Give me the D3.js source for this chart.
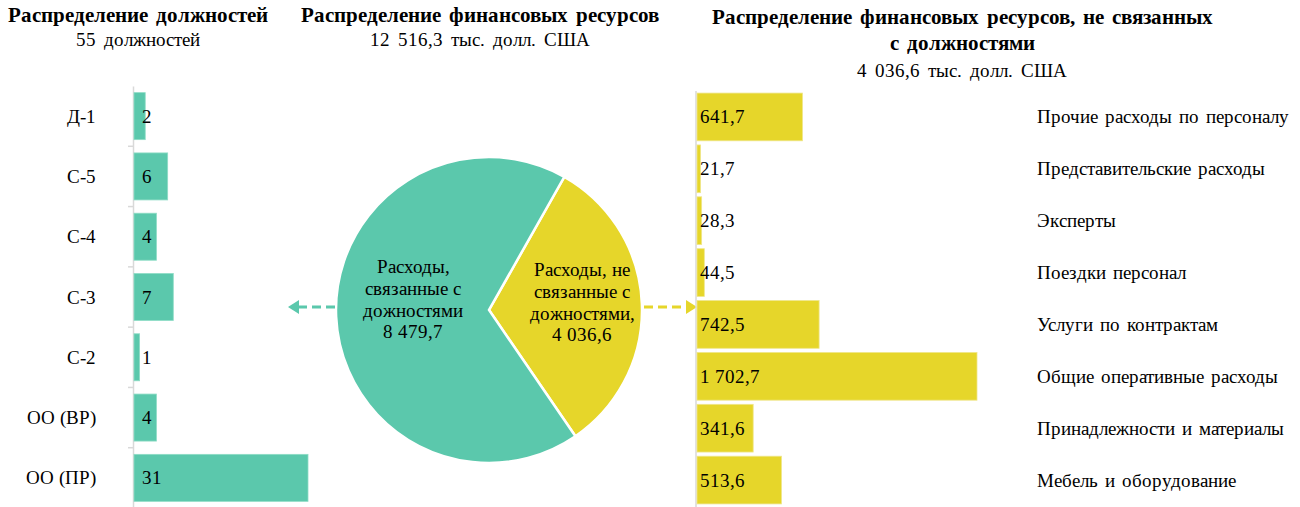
<!DOCTYPE html>
<html>
<head>
<meta charset="utf-8">
<script src="https://cdn.jsdelivr.net/npm/d3@7"></script>
<style>
  @font-face { font-family: "MySerif"; src: local("Liberation Serif"); }
  @font-face { font-family: "MySerif"; font-weight: bold; src: local("Liberation Serif Bold"); }
  body { margin: 0; background: #fff; }
</style>
</head>
<body>
<svg id="chart" width="1300" height="507"></svg>
<script>
const posts = ["Д-1", "С-5", "С-4", "С-3", "С-2", "ОО (ВР)", "ОО (ПР)"];
const postCounts = [2, 6, 4, 7, 1, 4, 31];

const pieNames = [
  ["Расходы, не", "связанные с", "дожностями,", "4 036,6"],
  ["Расходы,", "связанные с", "дожностями", "8 479,7"]
];
const pieValues = [4036.6, 8479.7];

const costItems = [
  "Прочие расходы по персоналу",
  "Представительские расходы",
  "Эксперты",
  "Поездки персонал",
  "Услуги по контрактам",
  "Общие оперативные расходы",
  "Принадлежности и материалы",
  "Мебель и оборудование"
];
const costValues = [641.7, 21.7, 28.3, 44.5, 742.5, 1702.7, 341.6, 513.6];

const green = "#5bc8ac";
const yellow = "#e6d62a";
const fmt = (v) => {
  const [i, f] = v.toFixed(1).split(".");
  return i.replace(/\B(?=(\d{3})+(?!\d))/g, " ") + "," + f;
};

const svg = d3.select("#chart");

function css(size, bold, ws) {
  return `font-family:MySerif,'Liberation Serif';font-size:${size}px;font-weight:${bold ? "bold" : "normal"};word-spacing:${ws || 0}px`;
}
// size the face so that a sample string has the width seen in the picture
function fit(sample, bold, ws, target) {
  const t = svg.append("text").attr("style", css(100, bold, ws * 100 / 18)).text(sample);
  const w = t.node().getComputedTextLength();
  t.remove();
  return 100 * target / w;
}
const titleSize = fit("Распределение должностей", true, 3, 258);
const textSize = fit("Прочие расходы по персоналу", false, 0, 249);

function txt(sel, size, bold, ws) {
  return sel.attr("style", css(size, bold, ws)).attr("fill", "#000");
}

// titles
function title(x, lines) {
  lines.forEach(([t, bold, y]) => {
    txt(svg.append("text"), bold ? titleSize : textSize, bold, 3)
      .attr("x", x).attr("y", y).attr("text-anchor", "middle").text(t);
  });
}
title(138, [["Распределение должностей", true, 22], ["55 должностей", false, 46]]);
title(480, [["Распределение финансовых ресурсов", true, 22], ["12 516,3 тыс. долл. США", false, 46]]);
title(962, [["Распределение финансовых ресурсов, не связанных", true, 24],
            ["с должностями", true, 50], ["4 036,6 тыс. долл. США", false, 77]]);

// left bar chart
const xL = d3.scaleLinear().domain([0, 31]).range([0, 174]);
const yL = d3.scaleBand().domain(posts).range([86, 508]).paddingInner(0.22).paddingOuter(0.11);
const left = svg.append("g").attr("transform", "translate(133,0)");
const axL = left.append("g").call(d3.axisLeft(yL).tickSize(0).tickFormat(""));
axL.select(".domain").attr("stroke", "#d9d9d9").attr("stroke-width", 1.5);
left.selectAll(".tk").data(d3.range(1, posts.length)).enter().append("line")
  .attr("x1", -5).attr("x2", 0)
  .attr("y1", (d) => 86 + d * (422 / posts.length)).attr("y2", (d) => 86 + d * (422 / posts.length))
  .attr("stroke", "#d9d9d9").attr("stroke-width", 1.5);
left.selectAll("rect").data(postCounts).enter().append("rect")
  .attr("x", 1).attr("y", (d, i) => yL(posts[i]))
  .attr("width", (d) => xL(d)).attr("height", yL.bandwidth())
  .attr("fill", green).attr("stroke", "#8fdcc6").attr("stroke-width", 0.8);
txt(left.selectAll(".v").data(postCounts).enter().append("text"), textSize)
  .attr("x", 9).attr("y", (d, i) => yL(posts[i]) + yL.bandwidth() / 2 + 6.5)
  .text((d) => d);
txt(left.selectAll(".c").data(posts).enter().append("text"), textSize)
  .attr("x", -37).attr("text-anchor", "end")
  .attr("y", (d) => yL(d) + yL.bandwidth() / 2 + 6.5).text((d) => d);

// pie
const cx = 489, cy = 310, r = 153;
const start = 29.5 * Math.PI / 180;
const pie = d3.pie().sort(null).startAngle(start).endAngle(start + 2 * Math.PI);
const arc = d3.arc().innerRadius(0).outerRadius(r);
const pg = svg.append("g").attr("transform", `translate(${cx},${cy})`);
pg.selectAll("path").data(pie(pieValues)).enter().append("path")
  .attr("d", arc).attr("fill", (d, i) => [yellow, green][i])
  .attr("stroke", "#fff").attr("stroke-width", 2.5);
const labelPos = [[93, -34], [-76, -37]];
pieNames.forEach((lines, i) => {
  const t = txt(pg.append("text"), textSize).attr("text-anchor", "middle")
    .attr("x", labelPos[i][0]).attr("y", labelPos[i][1]);
  lines.forEach((s, j) => t.append("tspan").attr("x", labelPos[i][0]).attr("dy", j ? 21.8 : 0).text(s));
});

// arrows
function arrow(x1, x2, col) {
  const dir = Math.sign(x2 - x1);
  svg.append("line").attr("x1", x1).attr("x2", x2 - dir * 9).attr("y1", 307).attr("y2", 307)
    .attr("stroke", col).attr("stroke-width", 3).attr("stroke-dasharray", "9,5");
  svg.append("path")
    .attr("d", `M${x2},307 L${x2 - dir * 11},300 L${x2 - dir * 11},314 Z`).attr("fill", col);
}
arrow(335, 288, green);
arrow(644, 697, yellow);

// right bar chart
const xR = d3.scaleLinear().domain([0, 1702.7]).range([0, 280]);
const yR = d3.scaleBand().domain(costItems).range([91, 506]).paddingInner(0.08).paddingOuter(0.04);
const right = svg.append("g").attr("transform", "translate(696,0)");
right.append("line").attr("x1", 0).attr("x2", 0).attr("y1", 91).attr("y2", 507)
  .attr("stroke", "#d9d9d9").attr("stroke-width", 1.5);
right.selectAll("rect").data(costValues).enter().append("rect")
  .attr("x", 1).attr("y", (d, i) => yR(costItems[i]))
  .attr("width", (d) => xR(d)).attr("height", yR.bandwidth())
  .attr("fill", yellow).attr("stroke", "#efe68a").attr("stroke-width", 0.8);
txt(right.selectAll(".v").data(costValues).enter().append("text"), textSize)
  .attr("x", 4).attr("y", (d, i) => yR(costItems[i]) + yR.bandwidth() / 2 + 6.5)
  .text((d) => fmt(d));
txt(right.selectAll(".c").data(costItems).enter().append("text"), textSize, false, 2)
  .attr("x", 341).attr("y", (d) => yR(d) + yR.bandwidth() / 2 + 6.5)
  .text((d) => d);
</script>
</body>
</html>
